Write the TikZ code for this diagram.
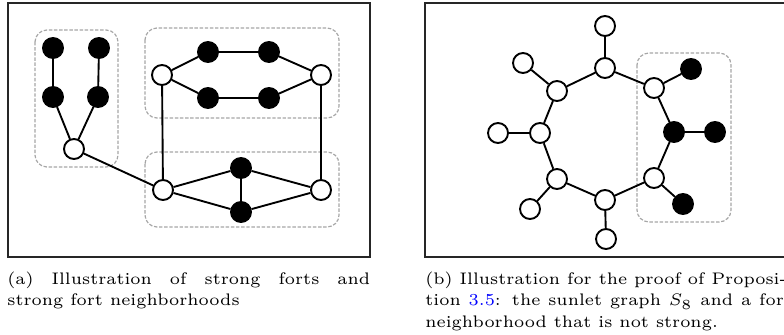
\documentclass[tikz,border=0pt]{standalone}
\usepackage{xcolor}
\usepackage{graphicx}
\newcommand{\capfont}{\fontsize{6}{7.64}\selectfont}
\begin{document}
\begin{tikzpicture}[x=0.5848pt,y=-0.5848pt,
  vb/.style={circle,draw=black,fill=black,line width=1.1pt,minimum size=11.7pt,inner sep=0pt},
  vw/.style={circle,draw=black,fill=white,line width=1.1pt,minimum size=11.7pt,inner sep=0pt},
  ed/.style={line width=1.1pt},
  fortbox/.style={draw=black!35,dashed,dash pattern=on 2pt off 1pt,line width=0.7pt,rounded corners=7pt},
  framebox/.style={draw=black!85,line width=0.6pt},
  captext/.style={anchor=base west,inner sep=0pt}]
\useasboundingbox (0,0) rectangle (784,334);
% frames
\draw[framebox] (8,3) rectangle (370,257);
\draw[framebox] (425,3) rectangle (790,257);
% ---------- panel (a) ----------
\draw[fortbox] (35,30) rectangle (118,167);
\draw[fortbox] (145,28) rectangle (339,118);
\draw[fortbox] (145,152) rectangle (339,227);
\node[vb] (a1) at (53,48) {};
\node[vb] (a2) at (99,48) {};
\node[vb] (a3) at (53,97) {};
\node[vb] (a4) at (98,97) {};
\node[vw] (a5) at (74,149) {};
\node[vw] (u1) at (162,75) {};
\node[vb] (u2) at (208,52) {};
\node[vb] (u3) at (269,52) {};
\node[vw] (u4) at (321,75) {};
\node[vb] (u5) at (208,98) {};
\node[vb] (u6) at (269,98) {};
\node[vw] (l1) at (163,190) {};
\node[vb] (l2) at (241,168) {};
\node[vb] (l3) at (241,212) {};
\node[vw] (l4) at (321,190) {};
\draw[ed] (a1)--(a3) (a2)--(a4) (a3)--(a5) (a4)--(a5) (a5)--(l1);
\draw[ed] (u1)--(u2)--(u3)--(u4) (u1)--(u5)--(u6)--(u4);
\draw[ed] (u1)--(l1) (u4)--(l4);
\draw[ed] (l1)--(l2)--(l4) (l1)--(l3)--(l4) (l2)--(l3);
% ---------- panel (b) ----------
\draw[fortbox] (637,53) rectangle (731,222);
\node[vw] (c1) at (605,68) {};
\node[vw] (c2) at (654,88) {};
\node[vb] (c3) at (674,132) {};
\node[vw] (c4) at (654,178) {};
\node[vw] (c5) at (605,200) {};
\node[vw] (c6) at (557,179) {};
\node[vw] (c7) at (540,133) {};
\node[vw] (c8) at (557,91) {};
\node[vw] (p1) at (605,26) {};
\node[vb] (p2) at (691,69) {};
\node[vb] (p3) at (715,132) {};
\node[vb] (p4) at (683,204) {};
\node[vw] (p5) at (606,239) {};
\node[vw] (p6) at (530,209) {};
\node[vw] (p7) at (498,133) {};
\node[vw] (p8) at (523,63) {};
\draw[ed] (c1)--(c2)--(c3)--(c4)--(c5)--(c6)--(c7)--(c8)--(c1);
\draw[ed] (c1)--(p1) (c2)--(p2) (c3)--(p3) (c4)--(p4) (c5)--(p5) (c6)--(p6) (c7)--(p7) (c8)--(p8);
% ---------- captions ----------
\node[captext] (capa) at (7,284.5) {\scalebox{1.63}{\parbox[t]{130.2pt}{\capfont (a) Illustration of strong forts and\linebreak strong fort neighborhoods}}};
\node[captext] (capb) at (425,284.5) {\scalebox{1.63}{\parbox[t]{131.5pt}{\capfont\hfuzz=20pt (b) Illustration for the proof of Proposi-\newline tion \textcolor{blue}{3.5}: the sunlet graph $S_8$ and a fort\linebreak neighborhood that is not strong.}}};
\end{tikzpicture}
\end{document}
